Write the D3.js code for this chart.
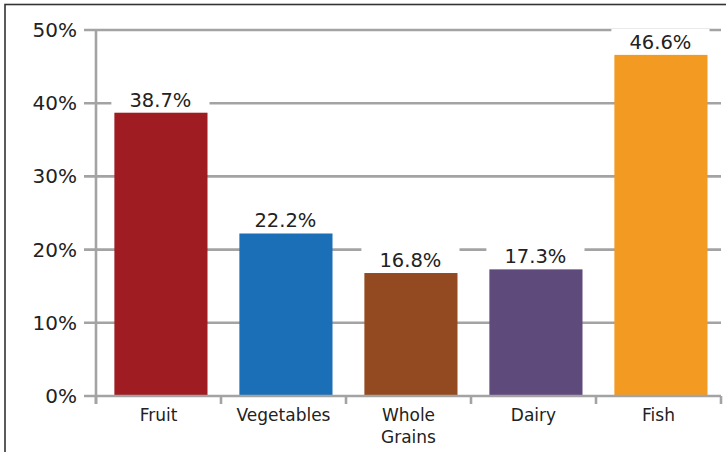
<!DOCTYPE html>
<html>
<head>
<meta charset="utf-8">
<script src="https://cdn.jsdelivr.net/npm/d3@7"></script>
<style>
  html, body { margin: 0; padding: 0; background: #fff; }
  svg { display: block; }
  text { font-family: "DejaVu Sans", Verdana, sans-serif; fill: #222; }
</style>
</head>
<body>
<svg id="chart" width="726" height="452"></svg>
<script>
const categories = ["Fruit", "Vegetables", "Whole Grains", "Dairy", "Fish"];
const values = [38.7, 22.2, 16.8, 17.3, 46.6];
const valueLabels = ["38.7%", "22.2%", "16.8%", "17.3%", "46.6%"];
const yTicks = [0, 10, 20, 30, 40, 50];
const palette = ["#9e1c22", "#1a6fb6", "#934a21", "#5f4a7c", "#f39a22"];

const svg = d3.select("#chart");
const W = 726, H = 452;

// outer frame
svg.append("rect")
  .attr("x", 5).attr("y", 4.5).attr("width", W + 10).attr("height", H + 10)
  .attr("fill", "none").attr("stroke", "#333").attr("stroke-width", 1.6);

const x = d3.scaleBand().domain(categories).range([96, 721]).padding(0);
const y = d3.scaleLinear().domain([0, 50]).range([396, 30]);
const gridColor = "#a3a3a3";

// gridlines (including tick stubs left of axis)
svg.append("g").selectAll("line").data(yTicks.filter(t => t > 0)).join("line")
  .attr("x1", 84).attr("x2", 721)
  .attr("y1", d => y(d)).attr("y2", d => y(d))
  .attr("stroke", gridColor).attr("stroke-width", 2.6);

// y-axis labels
svg.append("g").selectAll("text").data(yTicks).join("text")
  .attr("x", 77).attr("y", d => y(d))
  .attr("text-anchor", "end").attr("dominant-baseline", "central")
  .attr("font-size", 20)
  .text(d => d + "%");

const bw = x.bandwidth();
const barX = d => x(d) + bw * 0.147;
const barW = bw * 0.745;

const data = categories.map((c, i) => ({ c, v: values[i], label: valueLabels[i], color: palette[i] }));

// white boxes behind value labels (mask gridlines)
svg.append("g").selectAll("rect").data(data).join("rect")
  .attr("x", d => barX(d.c) - 3).attr("width", barW + 5)
  .attr("y", d => y(d.v) - 26).attr("height", 26)
  .attr("fill", "#fff");

// bars
svg.append("g").selectAll("rect").data(data).join("rect")
  .attr("x", d => barX(d.c)).attr("width", barW)
  .attr("y", d => y(d.v)).attr("height", d => y(0) - y(d.v))
  .attr("fill", d => d.color);

// value labels
svg.append("g").selectAll("text").data(data).join("text")
  .attr("x", d => barX(d.c) + barW / 2 - 0.5)
  .attr("y", d => y(d.v) - 6)
  .attr("text-anchor", "middle")
  .attr("font-size", 19.5)
  .text(d => d.label);

// axes lines
svg.append("line")
  .attr("x1", 96).attr("x2", 96).attr("y1", y(50)).attr("y2", 404)
  .attr("stroke", gridColor).attr("stroke-width", 2.6);
svg.append("line")
  .attr("x1", 84).attr("x2", 721).attr("y1", y(0)).attr("y2", y(0))
  .attr("stroke", gridColor).attr("stroke-width", 2.6);

// x ticks at category boundaries
const bounds = categories.map(c => x(c)).concat([x.range()[1]]);
svg.append("g").selectAll("line").data(bounds).join("line")
  .attr("x1", d => d).attr("x2", d => d)
  .attr("y1", y(0)).attr("y2", 404)
  .attr("stroke", gridColor).attr("stroke-width", 2.6);

// category labels
const catG = svg.append("g").selectAll("text").data(categories).join("text")
  .attr("x", d => x(d) + bw / 2)
  .attr("y", 421)
  .attr("text-anchor", "middle")
  .attr("font-size", 17);
catG.each(function(d) {
  const words = d === "Whole Grains" ? ["Whole", "Grains"] : [d];
  const t = d3.select(this);
  words.forEach((w, i) => {
    t.append("tspan").attr("x", x(d) + bw / 2).attr("dy", i === 0 ? 0 : 22).text(w);
  });
});
</script>
</body>
</html>
